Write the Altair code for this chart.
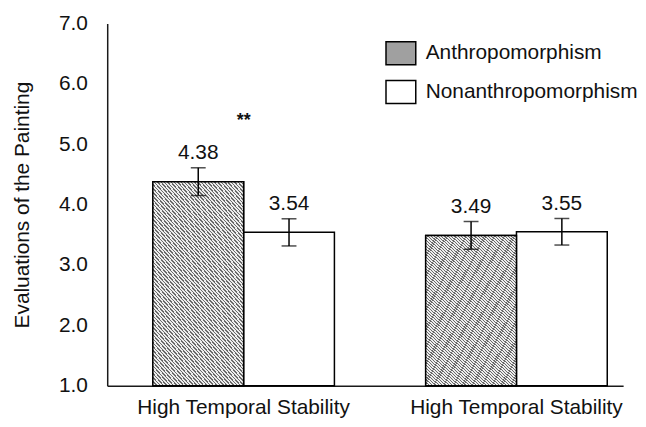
import json
import altair as alt
import pandas as pd

# ---- data ----
groups = ["High Temporal Stability", "High Temporal Stability"]
series = ["Anthropomorphism", "Nonanthropomorphism"]
means_anthro = [4.38, 3.49]
means_non = [3.54, 3.55]
err_anthro = [0.23, 0.23]
err_non = [0.225, 0.22]
sig_text = ["**"]
sig_group = [0]
sig_value = [5.3]
y_ticks = [1, 2, 3, 4, 5, 6, 7]

rows = []
for gi in range(len(groups)):
    for s, m, e in ((series[0], means_anthro, err_anthro), (series[1], means_non, err_non)):
        rows.append({"gid": str(gi), "series": s, "mean": m[gi],
                     "lo": m[gi] - e[gi], "hi": m[gi] + e[gi],
                     "label": f"{m[gi]:.2f}"})
df = pd.DataFrame(rows)
sig_df = pd.DataFrame({"gid": [str(g) for g in sig_group], "txt": sig_text, "v": sig_value})

FONT = "Liberation Sans"
FS = 21

# diagonal hatch approximated by a striped linear gradient
n_stripes = 80
stops = []
for i in range(n_stripes):
    a = i / n_stripes
    b = (i + 0.42) / n_stripes
    c = (i + 1) / n_stripes
    stops += [{"offset": a, "color": "#6a6a6a"}, {"offset": b, "color": "#6a6a6a"},
              {"offset": b, "color": "#ededed"}, {"offset": c, "color": "#ededed"}]
r = 1.95
ag = (1 + r) / (1 + r * r)
hatch = {"gradient": "linear", "x1": 0, "y1": 1, "x2": ag, "y2": 1 - ag * r, "stops": stops}

label_expr = json.dumps(groups) + "[toNumber(datum.value)]"

x_enc = alt.X("gid:N",
              scale=alt.Scale(paddingInner=0.3345, paddingOuter=0.1127, align=0.742),
              axis=alt.Axis(title=None, labelExpr=label_expr, ticks=False, labelAngle=0,
                            labelFontSize=FS, labelPadding=11, labelColor="#111111",
                            labelLimit=400,
                            domainColor="#1a1a1a", domainWidth=1.5))
xo_enc = alt.XOffset("series:N", scale=alt.Scale(domain=series, paddingInner=0, paddingOuter=0))
y_scale = alt.Scale(domain=[1, 7], nice=False, zero=False)

base = alt.Chart(df).encode(x=x_enc, xOffset=xo_enc)

bars = base.mark_bar(stroke="black", strokeWidth=1.5).encode(
    y=alt.Y("mean:Q", scale=y_scale,
            axis=alt.Axis(values=y_ticks, format=".1f", ticks=False, grid=False,
                          labelFontSize=FS, labelPadding=20, labelColor="#111111",
                          title="Evaluations of the Painting", titleFontSize=21,
                          titleFontWeight="normal", titlePadding=26, titleColor="#111111",
                          domainColor="#1a1a1a", domainWidth=1.5)),
    y2=alt.datum(1),
    fill=alt.Fill("series:N",
                  scale=alt.Scale(domain=series, range=["#a0a0a0", "#ffffff"]),
                  legend=alt.Legend(title=None, orient="none", legendX=280, legendY=14,
                                    symbolType="M-1,-0.77H1V0.77H-1Z", symbolSize=900,
                                    symbolStrokeColor="black", symbolStrokeWidth=1.5,
                                    labelFontSize=FS, labelOffset=9, rowPadding=8,
                                    labelLimit=400,
                                    labelColor="#111111", padding=0)),
)

hatched = base.transform_filter(alt.datum.series == series[0]).mark_bar(
    fill=hatch, stroke="black", strokeWidth=1.5).encode(
    y=alt.Y("mean:Q", scale=y_scale), y2=alt.datum(1))

stems = base.mark_rule(color="black", strokeWidth=1.5).encode(
    y=alt.Y("lo:Q", scale=y_scale), y2="hi:Q")
cap_lo = base.mark_tick(color="black", thickness=1.5, size=15).encode(y=alt.Y("lo:Q", scale=y_scale))
cap_hi = base.mark_tick(color="black", thickness=1.5, size=15).encode(y=alt.Y("hi:Q", scale=y_scale))

labels = base.mark_text(fontSize=FS, dy=-9, baseline="alphabetic", color="#111111").encode(
    y=alt.Y("hi:Q", scale=y_scale), text="label:N")

sig = alt.Chart(sig_df).mark_text(fontSize=18, fontWeight="bold", baseline="alphabetic",
                                  color="#111111").encode(
    x=alt.X("gid:N"), y=alt.Y("v:Q", scale=y_scale), text="txt:N")

chart = alt.layer(bars, hatched, stems, cap_lo, cap_hi, labels, sig).properties(
    width=520, height=365,
    autosize=alt.AutoSizeParams(type="none"),
    padding={"left": 100, "top": 14, "right": 15, "bottom": 40},
).configure(font=FONT).configure_view(stroke=None)

chart.save("out.html", embed_options={"renderer": "svg", "actions": False})
